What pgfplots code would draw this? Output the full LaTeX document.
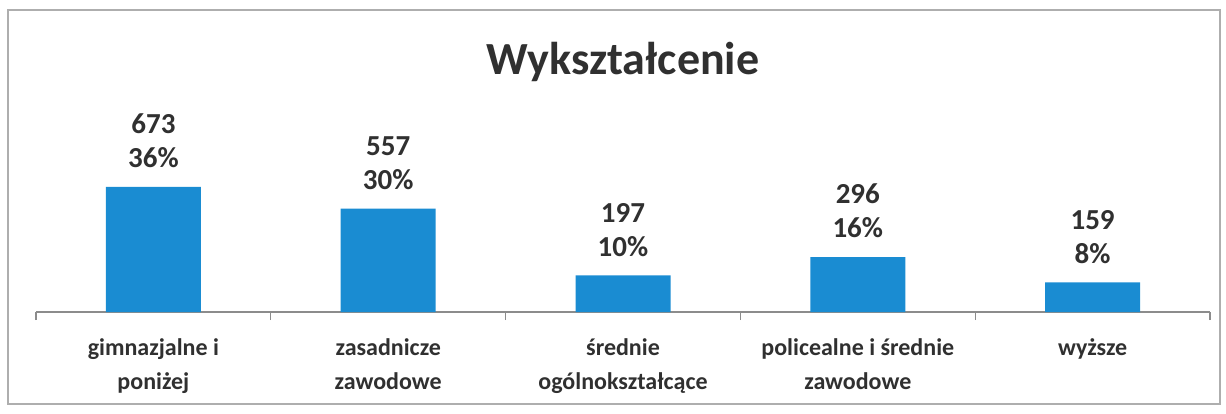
\documentclass[border=0pt]{standalone}
\usepackage{pgfplots}
\pgfplotsset{compat=1.18}
\usepackage{fontspec}
\setmainfont{Carlito}
\definecolor{barblue}{HTML}{1A8CD2}
\definecolor{txt}{HTML}{303030}
\definecolor{axgray}{HTML}{8C8C8C}
\begin{document}
\begin{tikzpicture}[x=1pt,y=1pt]
\useasboundingbox (-18,-50.5) rectangle (595,156);
\draw[axgray!70, line width=0.8pt] (-14,-46) rectangle (592,151);
\begin{axis}[
  at={(0,0)}, anchor=south west,
  scale only axis, width=587pt, height=106pt,
  xmin=-0.5, xmax=4.5, ymin=0, ymax=1141,
  axis x line*=bottom, axis y line=none,
  x axis line style={axgray, line width=0.6pt},
  ybar, bar width=47.5pt,
  xtick={0,1,2,3,4},
  xticklabels={{gimnazjalne i\\poniżej},{zasadnicze\\zawodowe},{średnie\\ogólnokształcące},{policealne i średnie\\zawodowe},{wyższe}},
  major tick length=0pt,
  minor xtick={-0.5,0.5,1.5,2.5,3.5,4.5},
  minor tick length=4pt,
  tick align=outside,
  every tick/.style={axgray, line width=0.6pt},
  ytick=\empty,
  /pgf/number format/assume math mode=true,
  xticklabel style={align=center, font=\bfseries\fontsize{12}{17}\selectfont, text=txt, yshift=-10pt},
  visualization depends on={\thisrow{p} \as \pct},
  nodes near coords={\pgfmathprintnumber{\pgfplotspointmeta}\\\pgfmathprintnumber{\pct}\%},
  every node near coord/.append style={align=center, font=\bfseries\fontsize{14.5}{17}\selectfont, text=txt, yshift=6pt},
  clip=false,
]
\addplot[fill=barblue, draw=none] table[x=x, y=y] {
x y p
0 673 36
1 557 30
2 197 10
3 296 16
4 159 8
};
\end{axis}
\node[anchor=base, font=\bfseries\fontsize{23}{27}\selectfont, text=txt] at (293.5,118.5) {Wykształcenie};
\end{tikzpicture}
\end{document}
